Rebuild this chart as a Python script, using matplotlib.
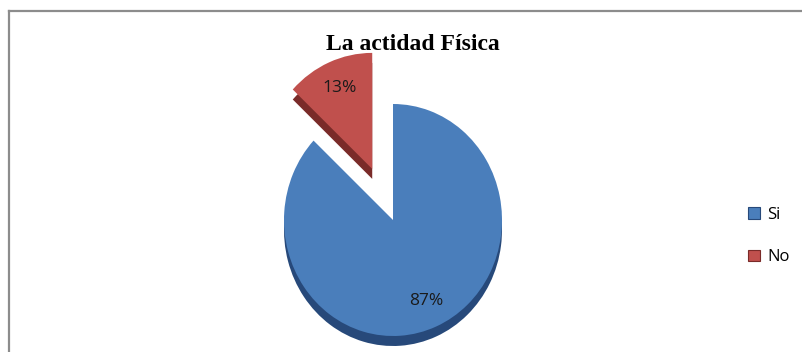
import matplotlib
matplotlib.use("Agg")
import matplotlib.pyplot as plt
from matplotlib.lines import Line2D
from matplotlib.patches import Patch
import numpy as np

categories = ["Si", "No"]
values = [87, 13]
pct_labels = ["87%", "13%"]
title = "La actidad Física"

colors = ["#4a7ebb", "#c0504d"]
side_colors = ["#27497a", "#7a2b29"]

W, H = 803, 352
fig = plt.figure(figsize=(W / 100, H / 100), dpi=100)
fig.patch.set_facecolor("white")

cx, cy, rx, ry = 393, 220, 109, 116
ax = fig.add_axes([0, 0, 1, 1])
explode = [0, 0.48]

# 3D thickness (side) drawn first, shifted down
depth = 10 / ry
ax.pie(values, colors=side_colors, startangle=90, counterclock=False,
       explode=explode, center=(0, -depth), radius=1.0,
       wedgeprops=dict(linewidth=0))
wedges, _ = ax.pie(values, colors=colors, startangle=90, counterclock=False,
                   explode=explode, radius=1.0,
                   wedgeprops=dict(linewidth=0))

# percentage labels
start = 90.0
total = sum(values)
for v, lab, ex in zip(values, pct_labels, explode):
    ang = start - v / total * 360 / 2
    start -= v / total * 360
    a = np.deg2rad(ang)
    d = 0.76 + ex
    ax.text(d * np.cos(a), d * np.sin(a), lab, ha="center", va="center",
            fontsize=12.5, color="#1a1a1a", family="Open Sans")

ax.set_aspect("auto")
ax.set_xlim(-cx / rx, (W - cx) / rx)
ax.set_ylim(-(H - cy) / ry, cy / ry)
ax.axis("off")

fig.text(413 / W, 1 - 44 / H, title, ha="center", va="center",
         fontsize=17, fontweight="bold", family="Liberation Serif")

handles = [Patch(facecolor=c, edgecolor=s, linewidth=0.8) for c, s in zip(colors, side_colors)]
fig.legend(handles, categories, loc="center left",
           bbox_to_anchor=(733 / W, 1 - 236 / H), frameon=False,
           handlelength=0.7, handleheight=0.7,
           handletextpad=0.45, labelspacing=1.6, prop={"family": "Open Sans", "size": 12})

# partial border
fig.add_artist(Line2D([9.5 / W, 9.5 / W], [0, 1 - 10.5 / H], color="#8c8c8c", lw=1.6,
                      transform=fig.transFigure))
fig.add_artist(Line2D([9.5 / W, 1], [1 - 10.5 / H, 1 - 10.5 / H], color="#8c8c8c", lw=1.6,
                      transform=fig.transFigure))

fig.savefig("out.png", dpi=100, facecolor="white")
